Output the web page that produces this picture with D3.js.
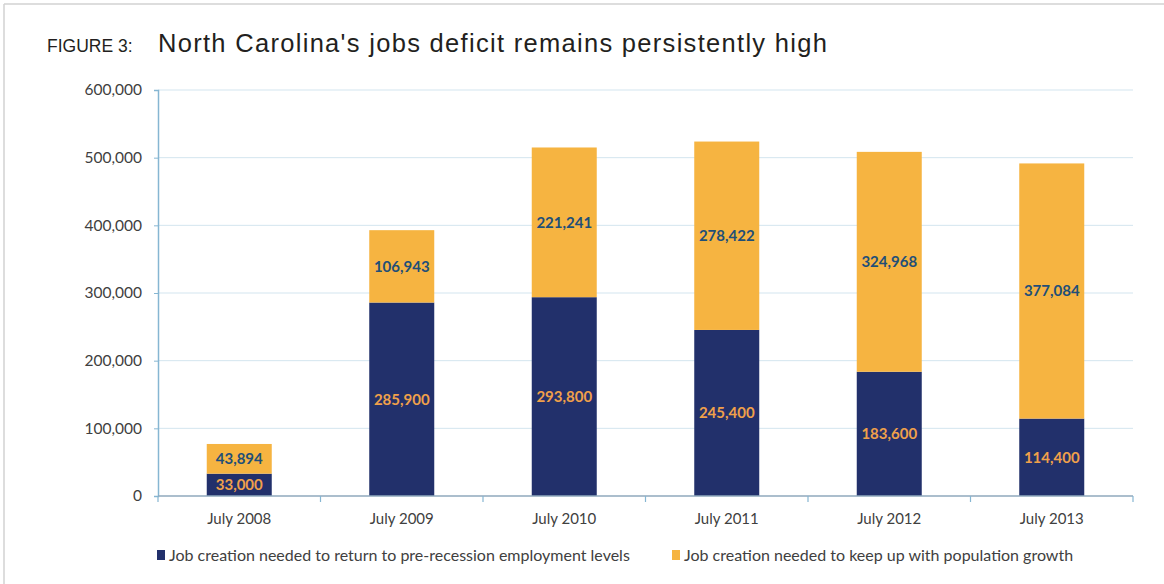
<!DOCTYPE html>
<html>
<head>
<meta charset="utf-8">
<script src="https://cdn.jsdelivr.net/npm/d3@7"></script>
<style>
  html, body { margin: 0; padding: 0; background: #fff; }
  svg { display: block; }
</style>
</head>
<body>
<svg id="chart" width="1164" height="584"></svg>
<script>
// Jobs deficit by year, split into its two components
const categories = ["July 2008", "July 2009", "July 2010", "July 2011", "July 2012", "July 2013"];
const returnToPreRecession = [33000, 285900, 293800, 245400, 183600, 114400];
const populationGrowth = [43894, 106943, 221241, 278422, 324968, 377084];
const yTicks = [0, 100000, 200000, 300000, 400000, 500000, 600000];
const seriesNames = [
  "Job creation needed to return to pre-recession employment levels",
  "Job creation needed to keep up with population growth"
];

const NAVY = "#22306b";
const GOLD = "#f6b441";
const LABEL_ON_NAVY = "#f0a04a";
const LABEL_ON_GOLD = "#1f4f78";

const svg = d3.select("#chart");
const W = 1164, H = 584;

// outer frame (top and left rules)
svg.append("line").attr("x1", 4).attr("x2", W).attr("y1", 4).attr("y2", 4)
  .attr("stroke", "#d2d2d2").attr("stroke-width", 1.5);
svg.append("line").attr("x1", 4).attr("x2", 4).attr("y1", 4).attr("y2", H)
  .attr("stroke", "#d2d2d2").attr("stroke-width", 1.5);

// title
const title = svg.append("text").attr("y", 52).attr("font-family", "Liberation Sans, Arial, sans-serif").attr("fill", "#231f20");
title.append("tspan").attr("x", 47).attr("font-size", 17.5).text("FIGURE 3:");
title.append("tspan").attr("x", 158).attr("font-size", 25.5).attr("letter-spacing", 1.3)
  .text("North Carolina's jobs deficit remains persistently high");

const margin = { left: 158, right: 1133, top: 90, bottom: 496 };

const x = d3.scaleBand().domain(categories).range([margin.left, margin.right]).paddingInner(0.6).paddingOuter(0.3);
const y = d3.scaleLinear().domain([0, 600000]).range([margin.bottom, margin.top]);

const fontAxis = "Lato, 'Open Sans', sans-serif";

// gridlines
svg.append("g").selectAll("line").data(yTicks.filter(d => d > 0)).join("line")
  .attr("x1", margin.left).attr("x2", margin.right)
  .attr("y1", d => y(d)).attr("y2", d => y(d))
  .attr("stroke", "#d3e5ef").attr("stroke-width", 1);

// y axis
const yAxis = svg.append("g").attr("transform", `translate(${margin.left},0)`)
  .call(d3.axisLeft(y).tickValues(yTicks).tickSize(4).tickPadding(12).tickFormat(d3.format(",")));
yAxis.select(".domain").attr("stroke", "#86b6d2").attr("stroke-width", 1.5);
yAxis.selectAll(".tick line").attr("stroke", "#86b6d2");
yAxis.selectAll("text").attr("font-family", fontAxis).attr("font-size", 15.5).attr("fill", "#404040");

// stacked bars
const stacked = categories.map((c, i) => ({
  cat: c,
  a: returnToPreRecession[i],
  b: populationGrowth[i]
}));

const bars = svg.append("g");
bars.selectAll("rect.navy").data(stacked).join("rect")
  .attr("class", "navy")
  .attr("x", d => x(d.cat)).attr("width", x.bandwidth())
  .attr("y", d => y(d.a)).attr("height", d => y(0) - y(d.a))
  .attr("fill", NAVY);
bars.selectAll("rect.gold").data(stacked).join("rect")
  .attr("class", "gold")
  .attr("x", d => x(d.cat)).attr("width", x.bandwidth())
  .attr("y", d => y(d.a + d.b)).attr("height", d => y(d.a) - y(d.a + d.b))
  .attr("fill", GOLD);

// value labels centred in each segment
const fmt = d3.format(",");
bars.selectAll("text.lblA").data(stacked).join("text")
  .attr("x", d => x(d.cat) + x.bandwidth() / 2)
  .attr("y", d => (y(0) + y(d.a)) / 2)
  .attr("dy", "0.36em").attr("text-anchor", "middle")
  .attr("font-family", fontAxis).attr("font-weight", 700).attr("font-size", 15)
  .attr("fill", LABEL_ON_NAVY).text(d => fmt(d.a));
bars.selectAll("text.lblB").data(stacked).join("text")
  .attr("x", d => x(d.cat) + x.bandwidth() / 2)
  .attr("y", d => (y(d.a) + y(d.a + d.b)) / 2)
  .attr("dy", "0.36em").attr("text-anchor", "middle")
  .attr("font-family", fontAxis).attr("font-weight", 700).attr("font-size", 15)
  .attr("fill", LABEL_ON_GOLD).text(d => fmt(d.b));

// x axis: baseline with ticks between categories
const xAxisG = svg.append("g").attr("transform", `translate(0,${margin.bottom})`);
xAxisG.append("line").attr("x1", margin.left).attr("x2", margin.right)
  .attr("stroke", "#8fa9bd").attr("stroke-width", 1.5);
const boundaries = d3.range(categories.length + 1).map(i => margin.left + i * (margin.right - margin.left) / categories.length);
xAxisG.selectAll("line.tk").data(boundaries).join("line")
  .attr("class", "tk")
  .attr("x1", d => d).attr("x2", d => d).attr("y1", 0).attr("y2", 6)
  .attr("stroke", "#86b6d2").attr("stroke-width", 1.2);
xAxisG.selectAll("text").data(categories).join("text")
  .attr("x", d => x(d) + x.bandwidth() / 2).attr("y", 28)
  .attr("text-anchor", "middle")
  .attr("font-family", fontAxis).attr("font-size", 15).attr("fill", "#404040")
  .text(d => d);

// legend
const legend = svg.append("g").attr("font-family", fontAxis).attr("font-size", 16).attr("fill", "#404040");
const legendItems = [
  { name: seriesNames[0], color: NAVY, x: 157 },
  { name: seriesNames[1], color: GOLD, x: 672 }
];
legendItems.forEach(it => {
  legend.append("rect").attr("x", it.x).attr("y", 550).attr("width", 8).attr("height", 10).attr("fill", it.color);
  legend.append("text").attr("x", it.x + 12).attr("y", 561).text(it.name);
});
</script>
</body>
</html>
